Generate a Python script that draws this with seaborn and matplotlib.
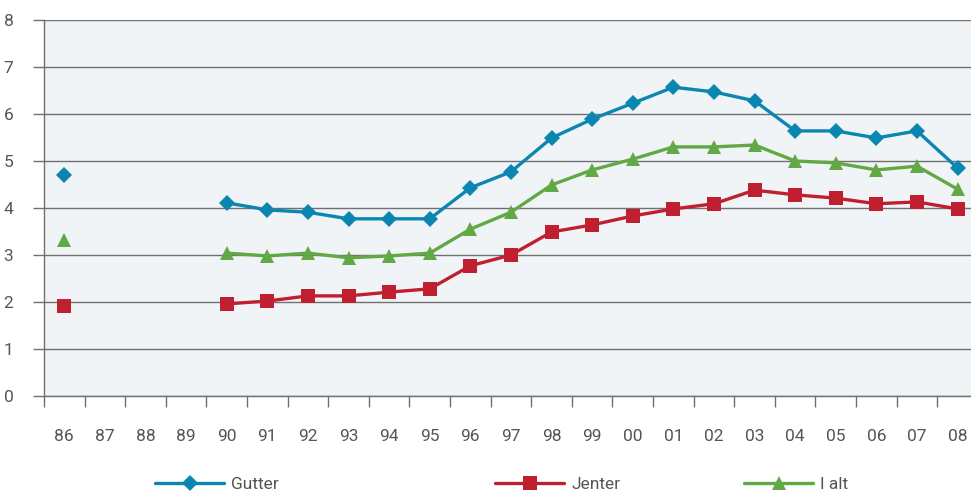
import numpy as np
import pandas as pd
import matplotlib
matplotlib.use("Agg")
import matplotlib.pyplot as plt
import seaborn as sns
from matplotlib.lines import Line2D

years = ["86", "87", "88", "89", "90", "91", "92", "93", "94", "95", "96", "97",
         "98", "99", "00", "01", "02", "03", "04", "05", "06", "07", "08"]
nan = np.nan
gutter = [4.70, nan, nan, nan, 4.11, 3.96, 3.91, 3.77, 3.77, 3.77, 4.43, 4.77,
          5.49, 5.89, 6.23, 6.57, 6.47, 6.28, 5.64, 5.64, 5.49, 5.64, 4.85]
jenter = [1.91, nan, nan, nan, 1.96, 2.02, 2.13, 2.13, 2.21, 2.28, 2.77, 3.00,
          3.49, 3.64, 3.83, 3.98, 4.09, 4.38, 4.28, 4.21, 4.09, 4.13, 3.98]
ialt = [3.32, nan, nan, nan, 3.04, 2.98, 3.04, 2.94, 2.98, 3.04, 3.55, 3.91,
        4.49, 4.81, 5.04, 5.30, 5.30, 5.34, 5.00, 4.96, 4.81, 4.89, 4.40]
series_names = ["Gutter", "Jenter", "I alt"]
yticks = [0, 1, 2, 3, 4, 5, 6, 7, 8]

colors = {"Gutter": "#0a86b1", "Jenter": "#c01f30", "I alt": "#62a844"}
markers = {"Gutter": "D", "Jenter": "s", "I alt": "^"}
msizes = {"Gutter": 8.5, "Jenter": 9.5, "I alt": 10.5}

rows = []
for name, vals in zip(series_names, [gutter, jenter, ialt]):
    seg = 0
    for i, v in enumerate(vals):
        if np.isnan(v):
            seg += 1
            continue
        rows.append({"pos": i, "value": v, "series": name, "segment": f"{name}-{seg}"})
df = pd.DataFrame(rows)

sns.set_theme(style="white")
plt.rcParams["font.family"] = ["Roboto", "DejaVu Sans"]

fig = plt.figure(figsize=(9.71, 4.92), dpi=100)
ax = fig.add_axes([44 / 971, 1 - 396 / 492, 1 - 44 / 971, (396 - 20) / 492])
ax.set_facecolor("#f0f4f7")

for name in series_names:
    sub = df[df["series"] == name]
    sns.lineplot(data=sub, x="pos", y="value", units="segment", estimator=None,
                 color=colors[name], lw=2.4, marker=markers[name],
                 markersize=msizes[name], markeredgewidth=0, ax=ax, legend=False)

ax.set_xlim(-0.5, 22.33)
ax.set_ylim(0, 8)
ax.set_yticks(yticks)
ax.set_yticklabels([str(t) for t in yticks])
ax.set_xticks(np.arange(-0.5, 22.5, 1))
ax.set_xticklabels([])
ax.set_xticks(np.arange(len(years)), minor=True)
ax.set_xticklabels(years, minor=True)
ax.tick_params(axis="x", which="major", length=8, width=1, color="#707070", direction="out", bottom=True)
ax.tick_params(axis="x", which="minor", length=0, pad=24, labelsize=12.5, labelcolor="#555555")
ax.tick_params(axis="y", length=8, width=1, color="#707070", direction="out", left=True,
               labelsize=12.5, labelcolor="#555555", pad=14)
ax.grid(axis="y", color="#707070", lw=1)
ax.set_axisbelow(True)
for s in ["top", "right"]:
    ax.spines[s].set_visible(False)
for s in ["left", "bottom"]:
    ax.spines[s].set_color("#707070")
    ax.spines[s].set_linewidth(1)
ax.set_xlabel("")
ax.set_ylabel("")

legend_x = {"Gutter": 155 / 971, "Jenter": 495 / 971, "I alt": 744 / 971}
for name in series_names:
    h = Line2D([], [], color=colors[name], lw=2.4, marker=markers[name],
               markersize=msizes[name], markeredgewidth=0)
    leg = fig.legend([h], [name], loc="center left", bbox_to_anchor=(legend_x[name], 1 - 484 / 492),
                     frameon=False, handlelength=4.0, handletextpad=0.4, fontsize=12.5,
                     borderaxespad=0, borderpad=0)
    for t in leg.get_texts():
        t.set_color("#555555")

fig.savefig("out.png", dpi=100)
